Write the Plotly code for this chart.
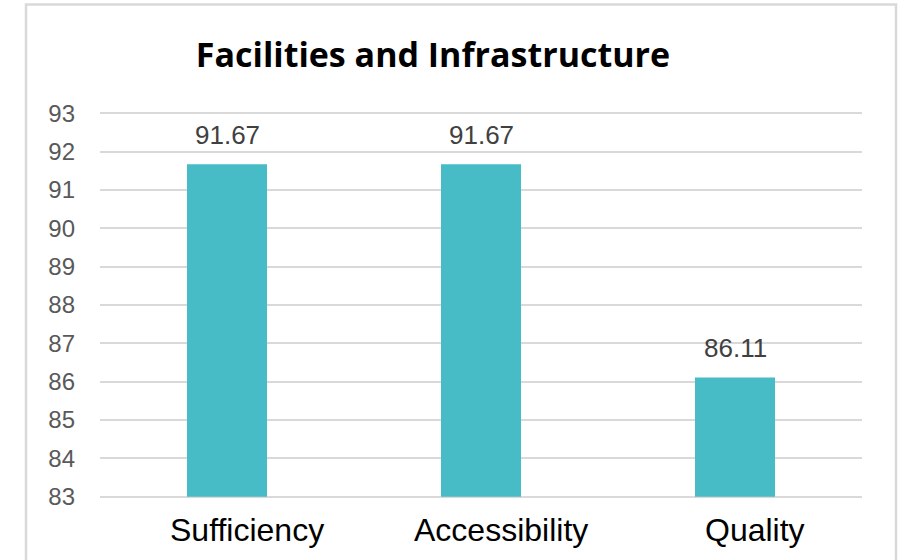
import plotly.graph_objects as go

categories = ["Sufficiency", "Accessibility", "Quality"]
values = [91.67, 91.67, 86.11]
labels = ["91.67", "91.67", "86.11"]
y_min, y_max = 83, 93

W, H = 905, 560
L, R = 100, 43
pad = 0.06
unit = (497 - 113) / (y_max - y_min)
T = 113 - pad * unit
B = H - (497 + pad * unit)
pw, ph = W - L - R, H - T - B

fig = go.Figure(go.Bar(
    x=categories, y=[v - y_min for v in values], base=[y_min] * len(values),
    marker=dict(color="#47BBC6", line=dict(width=0)),
    width=0.315, hoverinfo="skip",
))

for c, v, t in zip(categories, values, labels):
    fig.add_annotation(x=c, y=v, text=t, showarrow=False, yanchor="bottom", yshift=12,
                       font=dict(family="Liberation Sans, Arial", size=26, color="#404040"))
    fig.add_annotation(x=c, y=y_min, text=c, showarrow=False,
                       yanchor="middle", yshift=-33, xshift=20,
                       font=dict(family="Liberation Sans, Arial", size=32, color="black"))

def px_x(p): return (p - L) / pw
def px_y(p): return (H - B - p) / ph

fig.add_shape(type="rect", xref="paper", yref="paper",
              x0=px_x(26), x1=px_x(896), y0=px_y(575), y1=px_y(4),
              line=dict(color="#d9d9d9", width=2.5), fillcolor="rgba(0,0,0,0)")

fig.update_layout(
    width=W, height=H,
    margin=dict(l=L, r=R, t=T, b=B, autoexpand=False),
    paper_bgcolor="white", plot_bgcolor="white",
    title=dict(text="<b>Facilities and Infrastructure</b>", x=433 / W, xanchor="center",
               y=(H - 55) / H, yanchor="middle",
               font=dict(family="Open Sans, Liberation Sans", size=34, color="black")),
    showlegend=False,
    xaxis=dict(showticklabels=False, showline=False, ticks="", automargin=False),
    yaxis=dict(range=[y_min - pad, y_max + pad], dtick=1, tick0=y_min, showgrid=True,
               gridcolor="#d9d9d9", gridwidth=2,
               zeroline=False, showline=False, ticks="", automargin=False,
               tickfont=dict(family="Liberation Sans, Arial", size=24, color="#595959"),
               ticklabelstandoff=24),
)
fig.write_html("out.html", config={"displayModeBar": False},
               post_script="document.body.style.margin='0';")
